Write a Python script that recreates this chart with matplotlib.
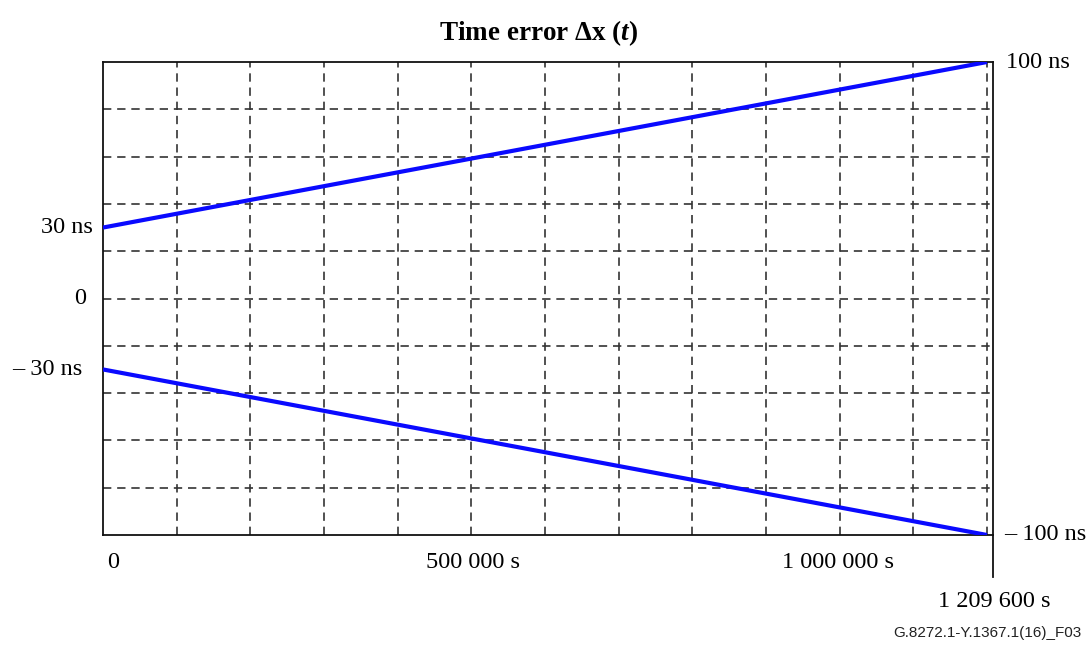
"""Time error delta-x(t) envelope figure (G.8272.1 Fig. 3 style)."""

import matplotlib.pyplot as plt
from matplotlib.lines import Line2D

plt.rcParams["mathtext.fontset"] = "custom"
plt.rcParams["mathtext.rm"] = "Liberation Serif"
plt.rcParams["mathtext.it"] = "Liberation Serif:italic"
plt.rcParams["mathtext.bf"] = "Liberation Serif:bold"
plt.rcParams["mathtext.bfit"] = "Liberation Serif:bold:italic"

# data
t_points = [0, 1209600]
upper_ns = [30, 100]
lower_ns = [-30, -100]
x_grid = [1209600 * k / 12 for k in range(1, 13)]
y_grid = [-80, -60, -40, -20, 0, 20, 40, 60, 80]
y_labels = [(30, "30 ns"), (0, "0"), (-30, "\u2013 30 ns")]
x_labels = [(0, "0"), (500000, "500 000 s"), (1000000, "1 000 000 s")]

LINE_COLOR = "#0a0aff"
GRID_COLOR = "#333333"
SERIF = "Liberation Serif"
FS = 17.5

fig = plt.figure(figsize=(10.89, 6.46), dpi=100)
ax = fig.add_axes([103 / 1089, 1 - 535 / 646, 890 / 1089, 473 / 646])
ax.set_xlim(0, 1217800)
ax.set_ylim(-100, 100)
ax.set_xticks([])
ax.set_yticks([])
for s in ax.spines.values():
    s.set_linewidth(1.3)
    s.set_color("#111111")

# dashed grid
for xv in x_grid:
    ax.axvline(xv, color=GRID_COLOR, lw=1.2, dashes=(5, 3.5), zorder=1)
for yv in y_grid:
    ax.axhline(yv, color=GRID_COLOR, lw=1.2, dashes=(5, 3.5), zorder=1)

ax.plot(t_points, upper_ns, color=LINE_COLOR, lw=3, solid_capstyle="butt", zorder=3)
ax.plot(t_points, lower_ns, color=LINE_COLOR, lw=3, solid_capstyle="butt", zorder=3)

# right spine extends below the box
ax.add_line(Line2D([1, 1], [0, -0.088], transform=ax.transAxes, color="#111111",
                   lw=1.3, clip_on=False))

# labels (the original left labels are not aligned on one edge)
ytr = ax.get_yaxis_transform()
xtr = ax.get_xaxis_transform()
label_gap = {30: 0.011, 0: 0.019, -30: 0.0235}
for yv, txt in y_labels:
    ax.text(-label_gap[yv], yv, txt, transform=ytr, ha="right", va="center",
            fontsize=FS, family=SERIF)
ax.text(1.015, 100, "100 ns", transform=ytr, ha="left", va="center",
        fontsize=FS, family=SERIF)
ax.text(1.012, -100, "\u2013 100 ns", transform=ytr, ha="left", va="center",
        fontsize=FS, family=SERIF)
for xv, txt in x_labels:
    if xv == 0:
        ax.text(6000, -0.058, txt, transform=xtr, ha="left", va="center",
                fontsize=FS, family=SERIF)
    else:
        ax.text(xv + 6000, -0.058, txt, transform=xtr, ha="center", va="center",
                fontsize=FS, family=SERIF)
ax.text(1209600 + 10000, -0.14, "1 209 600 s", transform=xtr,
        ha="center", va="center", fontsize=FS, family=SERIF)

fig.text(539 / 1089, 1 - 33 / 646, r"Time error Δx ($\mathbfit{t}$)",
         ha="center", va="center", fontsize=19.5, family=SERIF, fontweight="bold")
fig.text(1081 / 1089, 1 - 633 / 646, "G.8272.1-Y.1367.1(16)_F03", ha="right",
         va="center", fontsize=11, family="Liberation Sans", color="#222222")

plt.savefig("out.png", dpi=100)
